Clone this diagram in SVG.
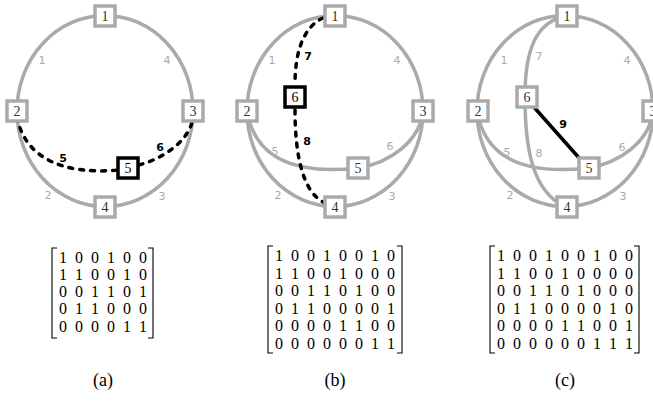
<svg xmlns="http://www.w3.org/2000/svg" width="653" height="401" viewBox="0 0 653 401">
<style>
.ring{fill:none;stroke:#aaa;stroke-width:3.5}
.gedge{fill:none;stroke:#aaa;stroke-width:3.5}
.dash{fill:none;stroke:#000;stroke-width:3.5;stroke-dasharray:4 7;stroke-linecap:round}
.solid{fill:none;stroke:#000;stroke-width:3.5}
.node use{fill:#fff;stroke:#aaa;stroke-width:3.5}
.node.hl use{stroke:#000}
.nl{font-family:"Liberation Serif",serif;font-size:14px;fill:#333;text-anchor:middle}
.hl .nl{fill:#000}
.el{font-family:"DejaVu Sans",sans-serif;font-size:11px;fill:#aaa;text-anchor:middle}
.eb{font-family:"DejaVu Sans",sans-serif;font-size:11px;font-weight:bold;fill:#000;text-anchor:middle}
.mx{font-family:"Liberation Serif",serif;font-size:16px;fill:#000;text-anchor:middle}
.br{fill:none;stroke:#000;stroke-width:1.1}
.cap{font-family:"Liberation Serif",serif;font-size:18px;fill:#000;text-anchor:middle}
</style>
<defs>
<rect id="box" x="-10" y="-10" width="20" height="20"/>
</defs>

<!-- Panel (a) -->
<g id="panel-a" transform="translate(105,111)">
  <g id="a-connectors">
    <ellipse class="ring" cx="0" cy="0" rx="88" ry="95.5"/>
    <path class="dash" d="M-88,6 C-80,48 -40,64 13,59"/>
    <path class="dash" d="M34,54 C60,47 86,28 88,6"/>
    <text class="el" x="-63" y="-47">1</text>
    <text class="el" x="62" y="-47">4</text>
    <text class="el" x="-57" y="88">2</text>
    <text class="el" x="57" y="89">3</text>
    <text class="eb" x="-42" y="51">5</text>
    <text class="eb" x="55" y="40">6</text>
  </g>
  <g id="a-n1" class="node" transform="translate(0,-95)"><use href="#box"/><text class="nl" y="5">1</text></g>
  <g id="a-n2" class="node" transform="translate(-88,0)"><use href="#box"/><text class="nl" y="5">2</text></g>
  <g id="a-n3" class="node" transform="translate(88,0)"><use href="#box"/><text class="nl" y="5">3</text></g>
  <g id="a-n4" class="node" transform="translate(0,96)"><use href="#box"/><text class="nl" y="5">4</text></g>
  <g id="a-n5" class="node hl" transform="translate(23,57)"><use href="#box"/><text class="nl" y="5">5</text></g>
</g>

<!-- Panel (b) -->
<g id="panel-b" transform="translate(335,111)">
  <g id="b-connectors">
    <ellipse class="ring" cx="0" cy="0" rx="88" ry="95.5"/>
    <path class="gedge" d="M-88,0 C-80,48 -40,64 23,57"/>
    <path class="gedge" d="M23,57 C55,52 85,30 88,0"/>
    <path class="dash" d="M-12,-93 C-32,-84 -40,-58 -40,-27"/>
    <path class="dash" d="M-40,-1 C-40,45 -32,80 -12,91"/>
    <text class="el" x="-63" y="-47">1</text>
    <text class="el" x="62" y="-47">4</text>
    <text class="el" x="-57" y="88">2</text>
    <text class="el" x="57" y="89">3</text>
    <text class="el" x="-60" y="44">5</text>
    <text class="el" x="55" y="39">6</text>
    <text class="eb" x="-27" y="-51">7</text>
    <text class="eb" x="-28" y="34">8</text>
  </g>
  <g id="b-n1" class="node" transform="translate(0,-95)"><use href="#box"/><text class="nl" y="5">1</text></g>
  <g id="b-n2" class="node" transform="translate(-88,0)"><use href="#box"/><text class="nl" y="5">2</text></g>
  <g id="b-n3" class="node" transform="translate(88,0)"><use href="#box"/><text class="nl" y="5">3</text></g>
  <g id="b-n4" class="node" transform="translate(0,96)"><use href="#box"/><text class="nl" y="5">4</text></g>
  <g id="b-n5" class="node" transform="translate(23,57)"><use href="#box"/><text class="nl" y="5">5</text></g>
  <g id="b-n6" class="node hl" transform="translate(-40,-14)"><use href="#box"/><text class="nl" y="5">6</text></g>
</g>

<!-- Panel (c) -->
<g id="panel-c" transform="translate(565,111)">
  <g id="c-connectors">
    <ellipse class="ring" cx="0" cy="0" rx="88" ry="95.5"/>
    <path class="gedge" d="M-88,0 C-80,48 -40,64 23,57"/>
    <path class="gedge" d="M23,57 C55,52 85,30 88,0"/>
    <path class="gedge" d="M0,-95 C-30,-88 -40,-60 -40,-14"/>
    <path class="gedge" d="M-40,-14 C-40,40 -32,80 0,96"/>
    <line class="solid" x1="-40" y1="-14" x2="23" y2="57"/>
    <text class="el" x="-61" y="-47">1</text>
    <text class="el" x="62" y="-47">4</text>
    <text class="el" x="-55" y="88">2</text>
    <text class="el" x="58" y="89">3</text>
    <text class="el" x="-58" y="45">5</text>
    <text class="el" x="57" y="40">6</text>
    <text class="el" x="-26" y="-51">7</text>
    <text class="el" x="-26" y="46">8</text>
    <text class="eb" x="-2" y="17">9</text>
  </g>
  <g id="c-n1" class="node" transform="translate(2,-95)"><use href="#box"/><text class="nl" y="5">1</text></g>
  <g id="c-n2" class="node" transform="translate(-87,0)"><use href="#box"/><text class="nl" y="5">2</text></g>
  <g id="c-n3" class="node" transform="translate(88,0)"><use href="#box"/><text class="nl" y="5">3</text></g>
  <g id="c-n4" class="node" transform="translate(2,96)"><use href="#box"/><text class="nl" y="5">4</text></g>
  <g id="c-n5" class="node" transform="translate(24,57)"><use href="#box"/><text class="nl" y="5">5</text></g>
  <g id="c-n6" class="node" transform="translate(-38,-14)"><use href="#box"/><text class="nl" y="5">6</text></g>
</g>

<!-- Matrix (a) -->
<g id="matrix-a">
  <path class="br" d="M57,248 H52 V338 H57"/>
  <path class="br" d="M148,248 H153 V338 H148"/>
  <text class="mx" x="63 71 79 87 95 103 111 119 127 135 143" y="262.5">1 0 0 1 0 0</text>
  <text class="mx" x="63 71 79 87 95 103 111 119 127 135 143" y="279.8">1 1 0 0 1 0</text>
  <text class="mx" x="63 71 79 87 95 103 111 119 127 135 143" y="297.1">0 0 1 1 0 1</text>
  <text class="mx" x="63 71 79 87 95 103 111 119 127 135 143" y="314.4">0 1 1 0 0 0</text>
  <text class="mx" x="63 71 79 87 95 103 111 119 127 135 143" y="331.7">0 0 0 0 1 1</text>
</g>

<!-- Matrix (b) -->
<g id="matrix-b">
  <path class="br" d="M273,246 H268 V353 H273"/>
  <path class="br" d="M397,246 H402 V353 H397"/>
  <text class="mx" x="279 287 295 303 311 319 327 335 343 351 359 367 375 383 391" y="261">1 0 0 1 0 0 1 0</text>
  <text class="mx" x="279 287 295 303 311 319 327 335 343 351 359 367 375 383 391" y="278.6">1 1 0 0 1 0 0 0</text>
  <text class="mx" x="279 287 295 303 311 319 327 335 343 351 359 367 375 383 391" y="296.2">0 0 1 1 0 1 0 0</text>
  <text class="mx" x="279 287 295 303 311 319 327 335 343 351 359 367 375 383 391" y="313.8">0 1 1 0 0 0 0 1</text>
  <text class="mx" x="279 287 295 303 311 319 327 335 343 351 359 367 375 383 391" y="331.4">0 0 0 0 1 1 0 0</text>
  <text class="mx" x="279 287 295 303 311 319 327 335 343 351 359 367 375 383 391" y="349">0 0 0 0 0 0 1 1</text>
</g>

<!-- Matrix (c) -->
<g id="matrix-c">
  <path class="br" d="M495,246 H490 V353 H495"/>
  <path class="br" d="M634,246 H639 V353 H634"/>
  <text class="mx" x="501 509 517 525 533 541 549 557 565 573 581 589 597 605 613 621 629" y="261">1 0 0 1 0 0 1 0 0</text>
  <text class="mx" x="501 509 517 525 533 541 549 557 565 573 581 589 597 605 613 621 629" y="278.6">1 1 0 0 1 0 0 0 0</text>
  <text class="mx" x="501 509 517 525 533 541 549 557 565 573 581 589 597 605 613 621 629" y="296.2">0 0 1 1 0 1 0 0 0</text>
  <text class="mx" x="501 509 517 525 533 541 549 557 565 573 581 589 597 605 613 621 629" y="313.8">0 1 1 0 0 0 0 1 0</text>
  <text class="mx" x="501 509 517 525 533 541 549 557 565 573 581 589 597 605 613 621 629" y="331.4">0 0 0 0 1 1 0 0 1</text>
  <text class="mx" x="501 509 517 525 533 541 549 557 565 573 581 589 597 605 613 621 629" y="349">0 0 0 0 0 0 1 1 1</text>
</g>

<text class="cap" x="103" y="386">(a)</text>
<text class="cap" x="335" y="386">(b)</text>
<text class="cap" x="565" y="386">(c)</text>
</svg>
